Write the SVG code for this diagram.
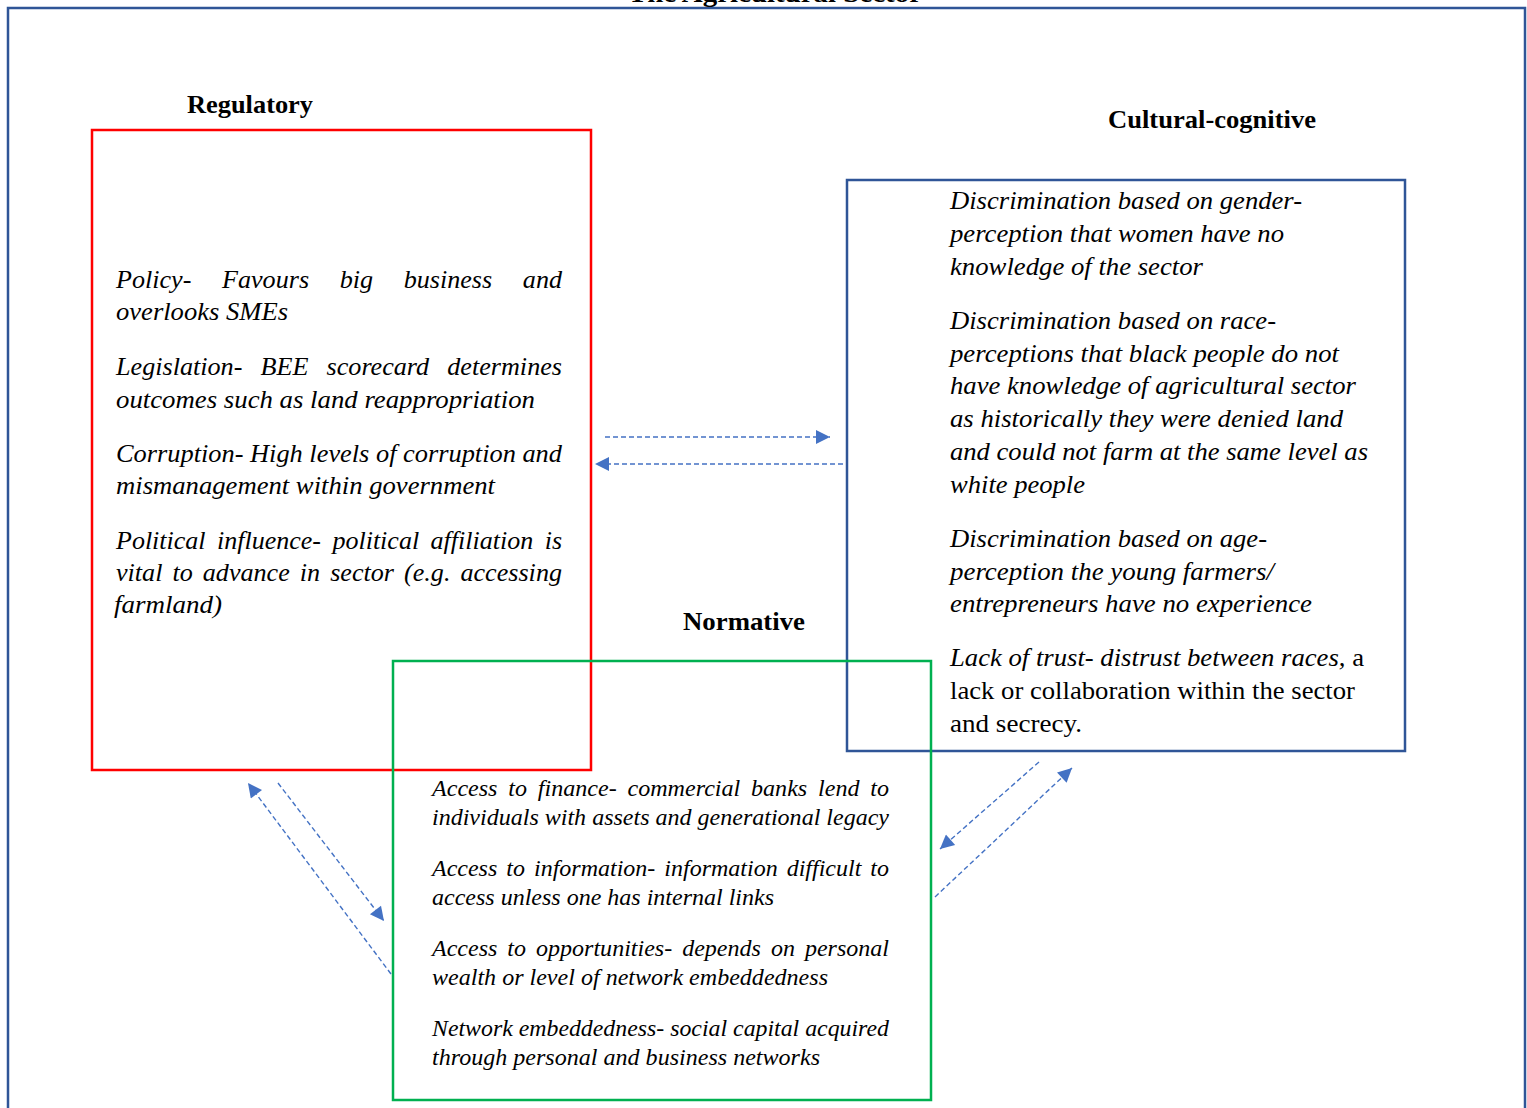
<svg xmlns="http://www.w3.org/2000/svg" width="1527" height="1108" viewBox="0 0 1527 1108">
<style>
.t{font-family:"Liberation Serif","Times New Roman",serif;fill:#000}
.h{font-weight:bold;font-size:26px}
.i{font-style:italic;font-size:26px}
.n{font-style:italic;font-size:24px}
.c{font-style:italic;font-size:25.5px}
.u{font-style:normal}
.con{stroke:#4472C4;stroke-width:1.4;stroke-dasharray:5 3;fill:none}
</style>
<defs>
<marker id="ah" viewBox="0 0 10 10" refX="10" refY="5" markerWidth="16" markerHeight="14" markerUnits="userSpaceOnUse" orient="auto">
<path d="M0,0 L10,5 L0,10 Z" fill="#4472C4"/>
</marker>
</defs>
<rect x="8" y="8" width="1517" height="1200" fill="#fff" stroke="#2F5597" stroke-width="2.5"/>
<text class="t h" x="628" y="2" font-size="28" textLength="294" lengthAdjust="spacingAndGlyphs">The Agricultural Sector</text>

<g id="regulatory">
<rect x="92" y="130" width="499" height="640" fill="none" stroke="#FF0000" stroke-width="2.5"/>
<text class="t h" x="187" y="113" textLength="126" lengthAdjust="spacingAndGlyphs">Regulatory</text>
<text class="t i" x="116" y="288" word-spacing="24" textLength="446" lengthAdjust="spacingAndGlyphs">Policy- Favours big business and</text>
<text class="t i" x="116" y="320" textLength="172" lengthAdjust="spacingAndGlyphs">overlooks SMEs</text>
<text class="t i" x="116" y="375" word-spacing="11.5" textLength="446" lengthAdjust="spacingAndGlyphs">Legislation- BEE scorecard determines</text>
<text class="t i" x="116" y="408" textLength="419" lengthAdjust="spacingAndGlyphs">outcomes such as land reappropriation</text>
<text class="t i" x="116" y="462" textLength="446" lengthAdjust="spacingAndGlyphs">Corruption- High levels of corruption and</text>
<text class="t i" x="116" y="494" textLength="379" lengthAdjust="spacingAndGlyphs">mismanagement within government</text>
<text class="t i" x="116" y="549" word-spacing="5" textLength="446" lengthAdjust="spacingAndGlyphs">Political influence- political affiliation is</text>
<text class="t i" x="116" y="581" word-spacing="3.5" textLength="446" lengthAdjust="spacingAndGlyphs">vital to advance in sector (e.g. accessing</text>
<text class="t i" x="114" y="613" textLength="108" lengthAdjust="spacingAndGlyphs">farmland)</text>
</g>

<g id="cultural-cognitive">
<rect x="847" y="180" width="558" height="571" fill="none" stroke="#2F5597" stroke-width="2.5"/>
<text class="t h" x="1108" y="128" textLength="208" lengthAdjust="spacingAndGlyphs">Cultural-cognitive</text>
<text class="t c" x="950" y="209" textLength="352" lengthAdjust="spacingAndGlyphs">Discrimination based on gender-</text>
<text class="t c" x="950" y="242" textLength="334" lengthAdjust="spacingAndGlyphs">perception that women have no</text>
<text class="t c" x="950" y="275" textLength="253" lengthAdjust="spacingAndGlyphs">knowledge of the sector</text>
<text class="t c" x="950" y="329" textLength="326" lengthAdjust="spacingAndGlyphs">Discrimination based on race-</text>
<text class="t c" x="950" y="362" textLength="389" lengthAdjust="spacingAndGlyphs">perceptions that black people do not</text>
<text class="t c" x="950" y="394" textLength="406" lengthAdjust="spacingAndGlyphs">have knowledge of agricultural sector</text>
<text class="t c" x="950" y="427" textLength="393" lengthAdjust="spacingAndGlyphs">as historically they were denied land</text>
<text class="t c" x="950" y="460" textLength="418" lengthAdjust="spacingAndGlyphs">and could not farm at the same level as</text>
<text class="t c" x="950" y="493" textLength="135" lengthAdjust="spacingAndGlyphs">white people</text>
<text class="t c" x="950" y="547" textLength="317" lengthAdjust="spacingAndGlyphs">Discrimination based on age-</text>
<text class="t c" x="950" y="580" textLength="324" lengthAdjust="spacingAndGlyphs">perception the young farmers/</text>
<text class="t c" x="950" y="612" textLength="362" lengthAdjust="spacingAndGlyphs">entrepreneurs have no experience</text>
<text class="t c" x="950" y="666" textLength="414" lengthAdjust="spacingAndGlyphs">Lack of trust- distrust between races,<tspan class="u"> a</tspan></text>
<text class="t c u" x="950" y="699" textLength="405" lengthAdjust="spacingAndGlyphs">lack or collaboration within the sector</text>
<text class="t c u" x="950" y="732" textLength="132" lengthAdjust="spacingAndGlyphs">and secrecy.</text>
</g>

<g id="normative">
<rect x="393" y="661" width="538" height="439" fill="none" stroke="#00B050" stroke-width="2.5"/>
<text class="t h" x="683" y="630" textLength="122" lengthAdjust="spacingAndGlyphs">Normative</text>
<text class="t n" x="432" y="796" word-spacing="4.8" textLength="457" lengthAdjust="spacingAndGlyphs">Access to finance- commercial banks lend to</text>
<text class="t n" x="432" y="825" textLength="457" lengthAdjust="spacingAndGlyphs">individuals with assets and generational legacy</text>
<text class="t n" x="432" y="876" word-spacing="3" textLength="457" lengthAdjust="spacingAndGlyphs">Access to information- information difficult to</text>
<text class="t n" x="432" y="905" textLength="342" lengthAdjust="spacingAndGlyphs">access unless one has internal links</text>
<text class="t n" x="432" y="956" word-spacing="4" textLength="457" lengthAdjust="spacingAndGlyphs">Access to opportunities- depends on personal</text>
<text class="t n" x="432" y="985" textLength="396" lengthAdjust="spacingAndGlyphs">wealth or level of network embeddedness</text>
<text class="t n" x="432" y="1036" textLength="457" lengthAdjust="spacingAndGlyphs">Network embeddedness- social capital acquired</text>
<text class="t n" x="432" y="1065" textLength="388" lengthAdjust="spacingAndGlyphs">through personal and business networks</text>
</g>

<g id="connectors">
<line class="con" x1="605" y1="437" x2="830" y2="437" marker-end="url(#ah)"/>
<line class="con" x1="843" y1="464" x2="595" y2="464" marker-end="url(#ah)"/>
<line class="con" x1="278" y1="783" x2="384" y2="921" marker-end="url(#ah)"/>
<line class="con" x1="391" y1="974" x2="248" y2="783" marker-end="url(#ah)"/>
<line class="con" x1="1039" y1="762" x2="940" y2="849" marker-end="url(#ah)"/>
<line class="con" x1="935" y1="897" x2="1072" y2="768" marker-end="url(#ah)"/>
</g>
</svg>
